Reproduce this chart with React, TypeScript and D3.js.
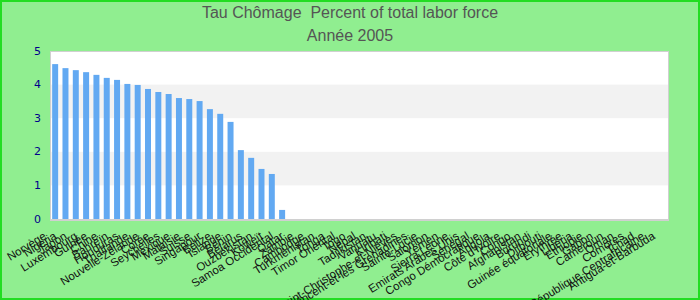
import React from "react";
import * as d3 from "d3";

const title1 = "Tau Chômage  Percent of total labor force";
const title2 = "Année 2005";

const countries: string[] = [
  "Norvège", "Nigeria", "Japon", "Luxembourg", "Guinée", "Chine", "Bahreïn", "Honduras",
  "Thaïlande", "Nouvelle-Zélande", "Corée", "Seychelles", "Mexique", "Malaisie", "Suisse",
  "Singapour", "Belize", "Islande", "Bénin", "Bélarus", "Ouzbékistan", "Koweït",
  "Samoa Occidental", "Qatar", "Zambie", "Cambodge", "Turkménistan", "Tonga",
  "Timor Oriental", "Togo", "Népal", "Tadjikistan", "Vanuatu", "Kiribati",
  "Saint-Christophe-et-Niévès", "Saint-Vincent-et-les Grenadines", "Sainte-Lucie",
  "Salomon", "Yémen", "Sierra Leone", "Emirats Arabes Unis", "Sénégal",
  "Congo Démocratique", "Angola", "Côte d'Ivoire", "Congo", "Afghanistan", "Burundi",
  "Djibouti", "Guinée équatoriale", "Erythrée", "Libéria", "Ethiopie", "Gabon",
  "Cameroun", "Oman", "Comores", "Tchad", "République Centrafricaine", "Antigua-et-Barbuda",
];

const values: number[] = [
  4.61, 4.49, 4.43, 4.37, 4.29, 4.2, 4.14, 4.02, 3.99, 3.87, 3.78, 3.72, 3.6, 3.57, 3.51,
  3.27, 3.13, 2.89, 2.05, 1.82, 1.49, 1.34, 0.27,
  0, 0, 0, 0, 0, 0, 0, 0, 0, 0, 0, 0, 0, 0, 0, 0, 0, 0, 0, 0, 0, 0, 0, 0, 0, 0, 0, 0, 0,
  0, 0, 0, 0, 0, 0, 0,
];

const yTicks: number[] = [0, 1, 2, 3, 4, 5];

const W = 700;
const H = 300;
const plot = { left: 50, right: 669, top: 51, bottom: 219 };

export default function App() {
  const x = d3
    .scaleBand<string>()
    .domain(countries)
    .range([plot.left, plot.right])
    .paddingInner(0.42)
    .paddingOuter(0.21);
  const y = d3.scaleLinear().domain([0, 5]).range([plot.bottom, plot.top]);

  return (
    <svg
      width={W}
      height={H}
      style={{ position: "absolute", left: 0, top: 0 }}
      fontFamily="'Liberation Sans', Arial, sans-serif"
    >
      <rect x={1} y={1} width={W - 2} height={H - 2} fill="#90ee90" stroke="#22dd22" strokeWidth={2} />
      <text x={W / 2} y={18} textAnchor="middle" fontSize={16} fill="#555" style={{ whiteSpace: "pre" }}>
        {title1}
      </text>
      <text x={W / 2} y={41} textAnchor="middle" fontSize={16} fill="#555">
        {title2}
      </text>

      <rect x={plot.left} y={plot.top} width={plot.right - plot.left} height={plot.bottom - plot.top} fill="#fff" />
      {yTicks.slice(0, -1).map((t) =>
        t % 2 === 1 ? (
          <rect
            key={"band" + t}
            x={plot.left}
            y={y(t + 1)}
            width={plot.right - plot.left}
            height={y(t) - y(t + 1)}
            fill="#f2f2f2"
          />
        ) : null
      )}
      <rect
        x={plot.left + 0.5}
        y={plot.top + 0.5}
        width={plot.right - plot.left - 1}
        height={plot.bottom - plot.top}
        fill="none"
        stroke="#d0d0d0"
        strokeWidth={1}
      />
      <line x1={plot.left} x2={plot.right} y1={plot.bottom + 1} y2={plot.bottom + 1} stroke="#d0d0d0" strokeWidth={2} />

      {countries.map((c, i) => (
        <rect
          key={c}
          x={x(c)!}
          y={y(values[i])}
          width={x.bandwidth()}
          height={plot.bottom - y(values[i])}
          fill="#62a9f2"
        />
      ))}

      {yTicks.map((t) => (
        <text
          key={"yt" + t}
          x={41}
          y={y(t)}
          textAnchor="end"
          dominantBaseline="central"
          fontSize={11}
          fontFamily="'DejaVu Sans', sans-serif"
          fill="#00008b"
        >
          {t}
        </text>
      ))}

      {countries.map((c) => {
        const cx = x(c)! + x.bandwidth() / 2 - 8;
        const cy = 238;
        return (
          <text
            key={"xl" + c}
            x={cx}
            y={cy}
            textAnchor="end"
            fontSize={11.5}
            fill="#111"
            transform={`rotate(-32 ${cx} ${cy})`}
          >
            {c}
          </text>
        );
      })}
    </svg>
  );
}
